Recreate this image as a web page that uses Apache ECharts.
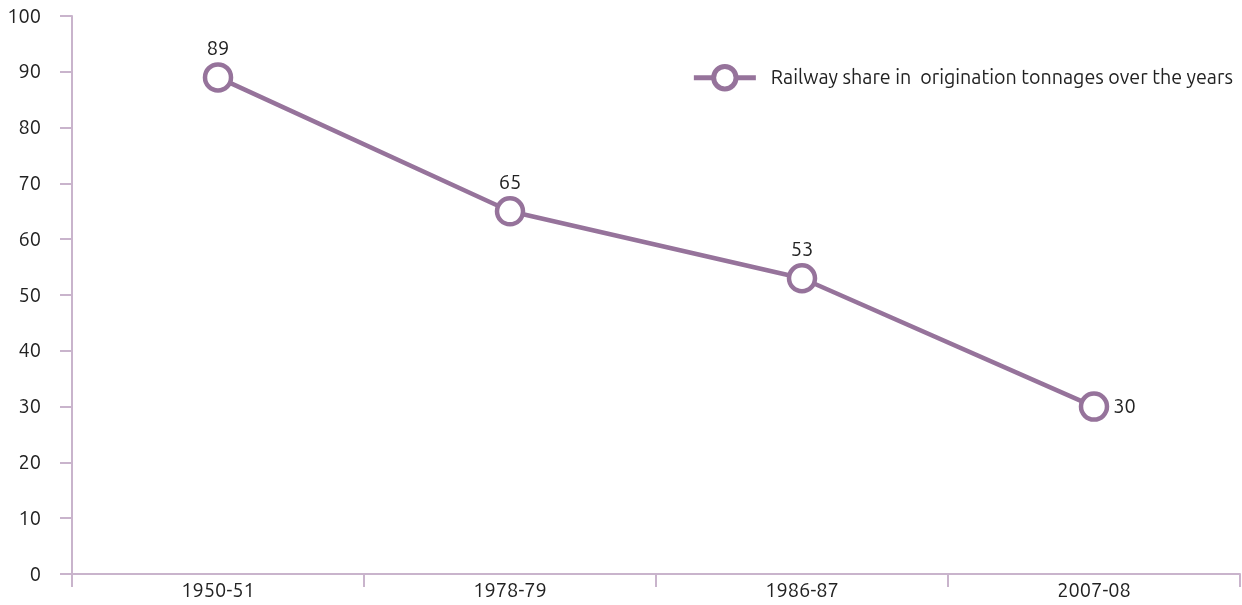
<!DOCTYPE html>
<html>
<head>
<meta charset="utf-8">
<script src="https://cdn.jsdelivr.net/npm/echarts@6/dist/echarts.min.js"></script>
<style>
  html, body { margin: 0; padding: 0; background: #fff; }
  #chart { width: 1242px; height: 605px; }
</style>
</head>
<body>
<div id="chart"></div>
<script>
const categories = ['1950-51', '1978-79', '1986-87', '2007-08']
const shareValues = [89, 65, 53, 30]
const labelPositions = ['top', 'top', 'top', 'right']
const seriesName = 'Railway share in  origination tonnages over the years'

const lineColor = '#96739b'
const axisColor = '#c9b4cc'
const textColor = '#222'
const font = 'Ubuntu, "Open Sans", "Noto Sans", sans-serif'

const chart = echarts.init(document.getElementById('chart'))
chart.setOption({
  animation: false,
  grid: { left: 72, right: 2, top: 16, bottom: 31 },
  legend: {
    right: 4,
    top: 59,
    itemWidth: 62,
    itemHeight: 28,
    itemGap: 10,
    lineStyle: { width: 5 },
    itemStyle: { borderWidth: 5 },
    textStyle: { color: textColor, fontSize: 19.7, fontFamily: font, padding: [0, 0, 0, 10] },
    data: [seriesName],
  },
  xAxis: {
    type: 'category',
    data: categories,
    boundaryGap: true,
    axisLine: { lineStyle: { color: axisColor, width: 2 } },
    axisTick: { show: true, length: 13, lineStyle: { color: axisColor, width: 2 } },
    axisLabel: { color: textColor, fontSize: 20, fontFamily: font, margin: 6 },
  },
  yAxis: {
    type: 'value',
    min: 0,
    max: 100,
    interval: 10,
    axisLine: { show: true, lineStyle: { color: axisColor, width: 2 } },
    axisTick: { show: true, length: 12, lineStyle: { color: axisColor, width: 2 } },
    splitLine: { show: false },
    axisLabel: { color: textColor, fontSize: 20, fontFamily: font, margin: 31 },
  },
  series: [{
    name: seriesName,
    type: 'line',
    data: shareValues.map((v, i) => ({
      value: v,
      label: { position: labelPositions[i] },
    })),
    symbol: 'circle',
    symbolSize: 26,
    showAllSymbol: true,
    lineStyle: { color: lineColor, width: 4.5 },
    itemStyle: { color: '#fff', borderColor: lineColor, borderWidth: 4.5 },
    label: {
      show: true,
      color: textColor,
      fontSize: 20,
      fontFamily: font,
      distance: 4,
    },
  }],
})
</script>
</body>
</html>
